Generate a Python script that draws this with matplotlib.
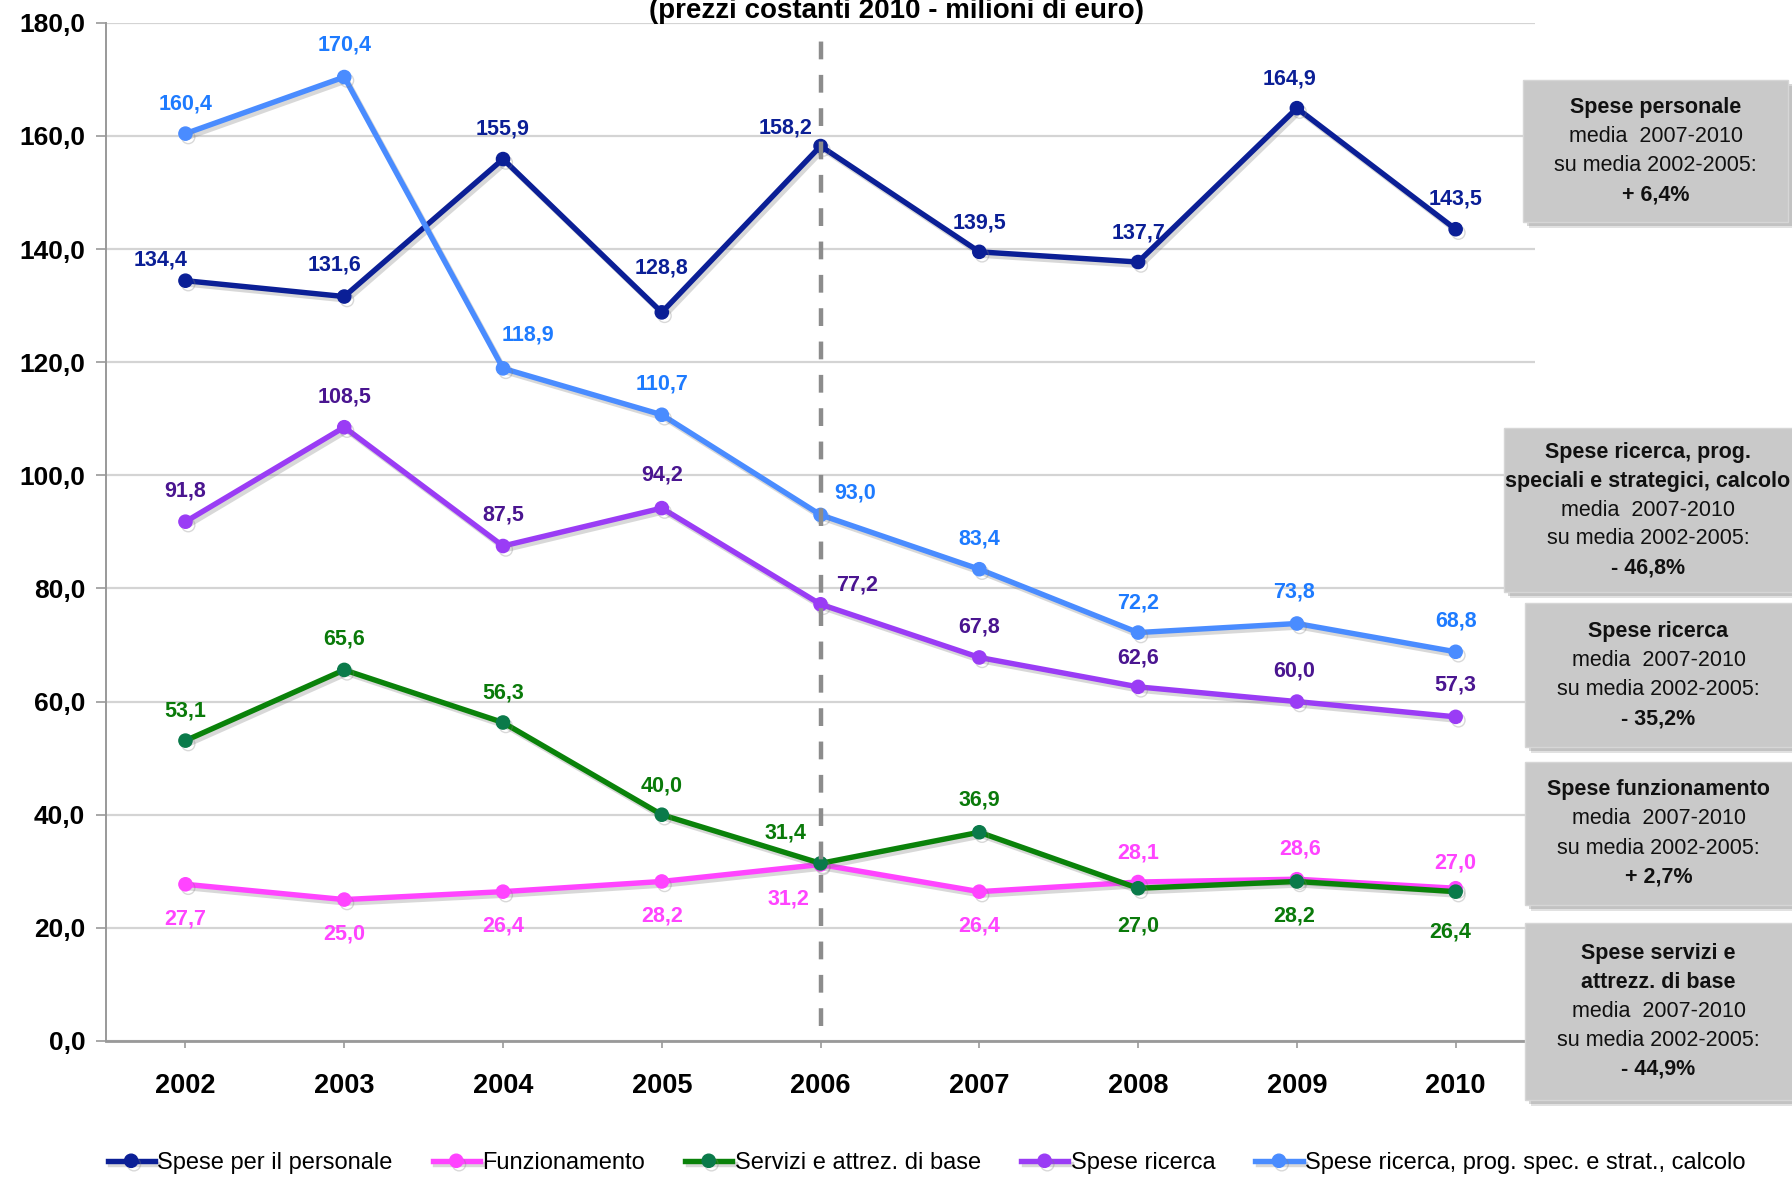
import matplotlib
matplotlib.use('Agg')
import matplotlib.pyplot as plt
import matplotlib.patheffects as pe
from matplotlib import font_manager
from matplotlib.patches import FancyBboxPatch

# font: condensed Arial look if available, otherwise Arial metrics
names = set(f.name for f in font_manager.fontManager.ttflist)
FONT = 'Liberation Sans'
for cand in ['Liberation Sans Narrow', 'Arial Narrow']:
    if cand in names:
        FONT = cand
        break
plt.rcParams['font.family'] = [FONT, 'DejaVu Sans']

# ---- data ----
anni = ['2002', '2003', '2004', '2005', '2006', '2007', '2008', '2009', '2010']
personale = [134.4, 131.6, 155.9, 128.8, 158.2, 139.5, 137.7, 164.9, 143.5]
funzionamento = [27.7, 25.0, 26.4, 28.2, 31.2, 26.4, 28.1, 28.6, 27.0]
servizi = [53.1, 65.6, 56.3, 40.0, 31.4, 36.9, 27.0, 28.2, 26.4]
ricerca = [91.8, 108.5, 87.5, 94.2, 77.2, 67.8, 62.6, 60.0, 57.3]
ricerca_prog = [160.4, 170.4, 118.9, 110.7, 93.0, 83.4, 72.2, 73.8, 68.8]
nomi = ['Spese per il personale', 'Funzionamento', 'Servizi e attrez. di base',
        'Spese ricerca', 'Spese ricerca, prog. spec. e strat., calcolo']
yticks = [0, 20, 40, 60, 80, 100, 120, 140, 160, 180]

box_testi = [
    ('Spese personale', '+ 6,4%'),
    ('Spese ricerca, prog.\nspeciali e strategici, calcolo', '- 46,8%'),
    ('Spese ricerca', '- 35,2%'),
    ('Spese funzionamento', '+ 2,7%'),
    ('Spese servizi e\nattrezz. di base', '- 44,9%'),
]

# ---- styles ----
col_line = ['#0b1f96', '#ff44ff', '#0a820a', '#9a3cf5', '#4a8cff']
col_mark = ['#0b1f96', '#ff44ff', '#0a7a4a', '#9a3cf5', '#4a8cff']
col_lab = ['#0b1f96', '#ff44ff', '#0a7a0a', '#4a1590', '#1e7bff']
# label offsets in points (dx, dy) per point
off = [
    [(-18, 15), (-7, 23), (0, 22), (0, 32), (-25, 13), (0, 21), (0, 21), (-5, 21), (0, 22)],
    [(0, -25), (0, -25), (0, -25), (0, -25), (-23, -25), (0, -25), (0, 21), (2, 22), (0, 18)],
    [(0, 21), (0, 22), (0, 21), (0, 21), (-25, 22), (0, 23), (0, -27), (-2, -25), (-4, -29)],
    [(0, 22), (0, 22), (0, 22), (0, 24), (26, 14), (0, 22), (0, 21), (-2, 22), (0, 23)],
    [(0, 21), (0, 23), (18, 24), (0, 22), (25, 16), (0, 22), (0, 21), (-2, 23), (0, 22)],
]

fig = plt.figure(figsize=(17.92, 11.78), dpi=100)
ax = fig.add_axes([0.0592, 0.1163, 0.7974, 0.8644])

x = list(range(len(anni)))
serie = [personale, funzionamento, servizi, ricerca, ricerca_prog]
shadow = [pe.SimpleLineShadow(offset=(2, -2.5), alpha=0.3, shadow_color='gray'), pe.Normal()]
for i, s in enumerate(serie):
    ax.plot(x, s, color=col_line[i], lw=3.9, marker='o', markersize=9.5,
            markerfacecolor=col_mark[i], markeredgecolor=col_mark[i],
            label=nomi[i], zorder=3, path_effects=shadow)
    for j, v in enumerate(s):
        ax.annotate(('%.1f' % v).replace('.', ','), (x[j], v), xytext=off[i][j],
                    textcoords='offset points', ha='center', va='center',
                    fontsize=15.5, fontweight='bold', color=col_lab[i], zorder=5)

ax.axvline(4, ymin=2.6 / 180, ymax=178.4 / 180, color='#8c8c8c', lw=3.2,
           dashes=(4, 3.5), zorder=4)

ax.set_xlim(-0.5, 8.5)
ax.set_ylim(0, 180)
ax.set_yticks(yticks)
ax.set_yticklabels(['%d,0' % t for t in yticks], fontsize=19, fontweight='bold')
ax.set_xticks(x)
ax.set_xticklabels(anni, fontsize=19.5, fontweight='bold')
ax.tick_params(axis='y', length=7, width=1.2, color='#999999', pad=8)
ax.tick_params(axis='x', length=5, width=1.2, color='#999999', pad=18)
ax.grid(axis='y', color='#d4d4d4', lw=1.6, zorder=0)
for sp in ['top', 'right']:
    ax.spines[sp].set_visible(False)
ax.spines['left'].set_color('#999999')
ax.spines['left'].set_linewidth(1.4)
ax.spines['bottom'].set_color('#999999')
ax.spines['bottom'].set_linewidth(2)

fig.text(0.5005, 0.991, '(prezzi costanti 2010 - milioni di euro)', ha='center', va='center',
         fontsize=20, fontweight='bold')

leg = fig.legend(loc='center', bbox_to_anchor=(0.517, 0.0127), ncol=5, frameon=False,
                 fontsize=17, handlelength=2.0, handletextpad=0.1, columnspacing=1.7)

# right hand boxes (pixel coords of figure, top-left origin)
W, H = 1792, 1178
box_px = [(1523, 80, 1788, 222), (1504, 428, 1800, 592), (1525, 603, 1800, 747),
          (1525, 762, 1800, 905), (1525, 923, 1800, 1100)]
for (x0, y0, x1, y1), (titolo, perc) in zip(box_px, box_testi):
    for dx, dy, a in [(6, 6, 0.25), (4, 4, 0.35)]:
        fig.patches.append(FancyBboxPatch((x0 / W + dx / W, 1 - (y1 + dy) / H),
                                          (x1 - x0) / W, (y1 - y0) / H,
                                          boxstyle='square,pad=0', transform=fig.transFigure,
                                          facecolor='#8a8a8a', edgecolor='none', alpha=a,
                                          zorder=1))
    fig.patches.append(FancyBboxPatch((x0 / W, 1 - y1 / H), (x1 - x0) / W, (y1 - y0) / H,
                                      boxstyle='square,pad=0', transform=fig.transFigure,
                                      facecolor='#c9c9c9', edgecolor='#d6d6d6', zorder=2))
    cx = (min(x1, 1792) + x0) / 2 / W
    nt = titolo.count('\n') + 1
    tot = nt + 3
    lh = 29
    ytop = (y0 + y1) / 2 - (tot - 1) * lh / 2
    righe = titolo.split('\n') + ['media  2007-2010', 'su media 2002-2005:', perc]
    for k, r in enumerate(righe):
        bold = k < nt or k == tot - 1
        fig.text(cx, 1 - (ytop + k * lh) / H, r, ha='center', va='center', fontsize=15.5,
                 fontweight='bold' if bold else 'normal', color='#111111', zorder=3)

fig.savefig('out.png', dpi=100)
